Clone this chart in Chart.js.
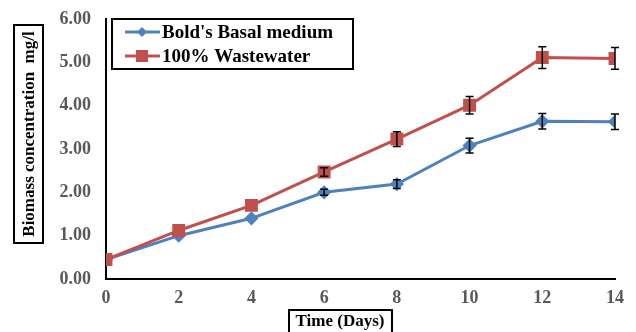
<!DOCTYPE html>
<html lang="en">
<head>
    <meta charset="UTF-8">
    <title>Biomass concentration</title>
    <script src="https://cdn.jsdelivr.net/npm/chart.js"></script>
    <style>
        html, body { margin: 0; padding: 0; background: #fff; }
        #wrap { width: 636px; height: 332px; }
    </style>
</head>
<body>
    <div id="wrap"><canvas id="myChart"></canvas></div>
    <script>
        // data
        const days = [0, 2, 4, 6, 8, 10, 12, 14];
        const boldsBasal = [0.45, 1.00, 1.40, 2.00, 2.19, 3.08, 3.64, 3.63];
        const boldsBasalErr = [0, 0, 0, 0.07, 0.10, 0.17, 0.18, 0.18];
        const wastewater = [0.45, 1.12, 1.70, 2.47, 3.23, 4.01, 5.11, 5.09];
        const wastewaterErr = [0, 0, 0, 0.10, 0.17, 0.20, 0.25, 0.25];
        const seriesNames = ["Bold's Basal medium", '100% Wastewater'];

        const BLUE = '#4F81BD';
        const RED = '#C0504D';
        const FONT = '"Liberation Serif", "Times New Roman", serif';

        const toPoints = (vals) => vals.map((v, i) => ({x: days[i], y: v}));

        // error bars + boxed titles + boxed legend
        const decorations = {
            id: 'decorations',
            afterDatasetsDraw(chart) {
                const ctx = chart.ctx;
                const xs = chart.scales.x, ys = chart.scales.y;
                ctx.save();
                ctx.strokeStyle = '#000';
                ctx.lineWidth = 1.5;
                chart.data.datasets.forEach(ds => {
                    ds.errors.forEach((e, i) => {
                        if (!e) return;
                        const px = xs.getPixelForValue(days[i]);
                        const top = ys.getPixelForValue(ds.data[i].y + e);
                        const bot = ys.getPixelForValue(ds.data[i].y - e);
                        ctx.beginPath();
                        ctx.moveTo(px, top); ctx.lineTo(px, bot);
                        ctx.moveTo(px - 4, top); ctx.lineTo(px + 4, top);
                        ctx.moveTo(px - 4, bot); ctx.lineTo(px + 4, bot);
                        ctx.stroke();
                    });
                });
                ctx.restore();
            },
            afterDraw(chart) {
                const ctx = chart.ctx;
                ctx.save();
                ctx.strokeStyle = '#000';
                ctx.lineWidth = 2;
                ctx.fillStyle = '#000';

                // y title
                ctx.strokeRect(14, 25, 29, 218);
                ctx.translate(29, 134);
                ctx.rotate(-Math.PI / 2);
                ctx.font = 'bold 17px ' + FONT;
                ctx.textAlign = 'center';
                ctx.textBaseline = 'middle';
                ctx.fillText('Biomass concentration  mg/l', 0, 1);
                ctx.setTransform(1, 0, 0, 1, 0, 0);

                // x title
                ctx.strokeRect(289, 310, 103, 24);
                ctx.font = 'bold 17px ' + FONT;
                ctx.fillText('Time (Days)', 340, 322);

                // legend
                ctx.fillStyle = '#fff';
                ctx.fillRect(112, 19, 241, 50);
                ctx.strokeRect(112, 19, 241, 50);
                ctx.font = 'bold 19px ' + FONT;
                ctx.textAlign = 'left';
                const rows = [32, 56];
                chart.data.datasets.forEach((ds, i) => {
                    const y = rows[i];
                    ctx.strokeStyle = ds.borderColor;
                    ctx.lineWidth = 3;
                    ctx.beginPath();
                    ctx.moveTo(125, y); ctx.lineTo(160, y);
                    ctx.stroke();
                    ctx.fillStyle = ds.borderColor;
                    if (ds.pointStyle === 'rect') {
                        ctx.fillRect(136, y - 6, 12, 12);
                    } else {
                        ctx.beginPath();
                        ctx.moveTo(142, y - 5); ctx.lineTo(147, y);
                        ctx.lineTo(142, y + 5); ctx.lineTo(137, y);
                        ctx.closePath(); ctx.fill();
                    }
                    ctx.fillStyle = '#000';
                    ctx.fillText(ds.label, 162, y + 1);
                });
                ctx.restore();
            }
        };

        const config = {
            type: 'line',
            data: {
                datasets: [
                    {
                        label: seriesNames[0],
                        data: toPoints(boldsBasal),
                        errors: boldsBasalErr,
                        borderColor: BLUE,
                        backgroundColor: BLUE,
                        borderWidth: 3,
                        pointStyle: 'rectRot',
                        pointRadius: 5,
                        pointHoverRadius: 5,
                        order: 2
                    },
                    {
                        label: seriesNames[1],
                        data: toPoints(wastewater),
                        errors: wastewaterErr,
                        borderColor: RED,
                        backgroundColor: RED,
                        borderWidth: 3,
                        pointStyle: 'rect',
                        pointRadius: 7,
                        pointHoverRadius: 7,
                        order: 1
                    }
                ]
            },
            options: {
                responsive: true,
                maintainAspectRatio: false,
                animation: false,
                layout: { padding: { left: 0, right: 21, top: 19, bottom: 0 } },
                plugins: {
                    legend: { display: false },
                    tooltip: { enabled: false }
                },
                scales: {
                    x: {
                        type: 'linear',
                        min: 0, max: 14,
                        afterFit: s => { s.height = 53; s.paddingLeft = 0; s.paddingRight = 0; },
                        ticks: {
                            stepSize: 2,
                            padding: 9,
                            color: '#595959',
                            font: { family: FONT, size: 18, weight: 'bold' }
                        },
                        grid: { display: false, drawTicks: false },
                        border: { color: '#000', width: 2 }
                    },
                    y: {
                        min: 0, max: 6,
                        afterFit: s => { s.width = 106; s.paddingTop = 0; s.paddingBottom = 0; },
                        ticks: {
                            stepSize: 1,
                            padding: 15,
                            color: '#595959',
                            callback: v => v.toFixed(2),
                            font: { family: FONT, size: 18, weight: 'bold' }
                        },
                        grid: { display: false, drawTicks: false },
                        border: { color: '#000', width: 2 }
                    }
                }
            },
            plugins: [decorations]
        };

        const myChart = new Chart(document.getElementById('myChart'), config);
    </script>
</body>
</html>
